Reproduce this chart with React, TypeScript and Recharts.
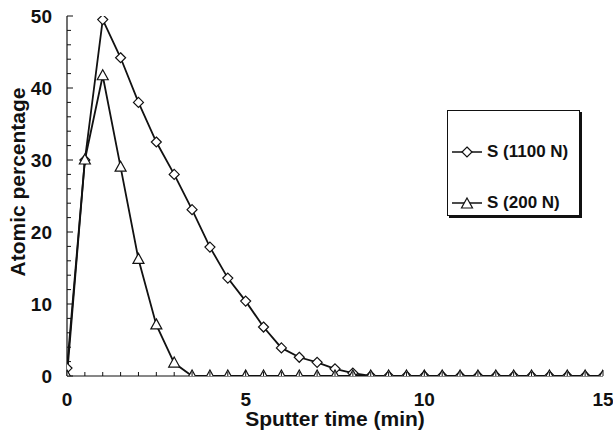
import React from 'react';
import { LineChart, Line, XAxis, YAxis, Legend } from 'recharts';

const times = [0, 0.5, 1, 1.5, 2, 2.5, 3, 3.5, 4, 4.5, 5, 5.5, 6, 6.5, 7, 7.5, 8, 8.5, 9, 9.5, 10, 10.5, 11, 11.5, 12, 12.5, 13, 13.5, 14, 14.5, 15];
const s1100 = [1.1, 30, 49.5, 44.2, 38, 32.5, 28, 23.1, 17.9, 13.6, 10.4, 6.8, 3.9, 2.6, 1.9, 1.0, 0.4, 0, 0, 0, 0, 0, 0, 0, 0, 0, 0, 0, 0, 0, 0];
const s200 = [0, 30, 41.7, 29, 16.2, 7.1, 1.8, 0, 0, 0, 0, 0, 0, 0, 0, 0, 0, 0, 0, 0, 0, 0, 0, 0, 0, 0, 0, 0, 0, 0, 0];
const xTicks = [0, 0.5, 1, 1.5, 2, 2.5, 3, 3.5, 4, 4.5, 5, 5.5, 6, 6.5, 7, 7.5, 8, 8.5, 9, 9.5, 10, 10.5, 11, 11.5, 12, 12.5, 13, 13.5, 14, 14.5, 15];
const xLabels = [0, 5, 10, 15];
const yTicks = [0, 2, 4, 6, 8, 10, 12, 14, 16, 18, 20, 22, 24, 26, 28, 30, 32, 34, 36, 38, 40, 42, 44, 46, 48, 50];
const yLabels = [0, 10, 20, 30, 40, 50];
const seriesNames = ['S (1100 N)', 'S (200 N)'];

const data = times.map((t, i) => ({ t, a: s1100[i], b: s200[i] }));

const FONT = '"Liberation Sans", Arial, sans-serif';
const INK = '#111';

const Diamond = (props: any) => {
  const { cx, cy } = props;
  if (cx == null || cy == null) return null;
  const r = 5;
  return <polygon points={`${cx},${cy - r} ${cx + r},${cy} ${cx},${cy + r} ${cx - r},${cy}`} fill="#fff" stroke={INK} strokeWidth={1.2} />;
};
const Triangle = (props: any) => {
  const { cx, cy } = props;
  if (cx == null || cy == null) return null;
  return <polygon points={`${cx},${cy - 6} ${cx + 5.5},${cy + 4} ${cx - 5.5},${cy + 4}`} fill="#fff" stroke={INK} strokeWidth={1.2} />;
};

const majorX = (v: number) => xLabels.indexOf(v) >= 0;
const majorY = (v: number) => yLabels.indexOf(v) >= 0;

const BottomTick = (p: any) => {
  const { x, y, payload } = p;
  const v = payload.value;
  const len = majorX(v) ? 6 : 4;
  return (
    <g>
      <line x1={x} x2={x} y1={y} y2={y - len} stroke={INK} strokeWidth={1} />
      {majorX(v) && (
        <text x={x} y={y + 30} textAnchor="middle" fontFamily={FONT} fontWeight="bold" fontSize={19} fill={INK}>{v}</text>
      )}
    </g>
  );
};
const TopTick = (p: any) => {
  const { x, y, payload } = p;
  const len = majorX(payload.value) ? 6 : 4;
  return <line x1={x} x2={x} y1={y} y2={y + len} stroke={INK} strokeWidth={1} />;
};
const LeftTick = (p: any) => {
  const { x, y, payload } = p;
  const v = payload.value;
  const len = majorY(v) ? 6 : 4;
  return (
    <g>
      <line x1={x} x2={x + len} y1={y} y2={y} stroke={INK} strokeWidth={1} />
      {majorY(v) && (
        <text x={x - 15} y={y + 7} textAnchor="end" fontFamily={FONT} fontWeight="bold" fontSize={19} fill={INK}>{v}</text>
      )}
    </g>
  );
};
const RightTick = (p: any) => {
  const { x, y, payload } = p;
  const len = majorY(payload.value) ? 6 : 4;
  return <line x1={x} x2={x - len} y1={y} y2={y} stroke={INK} strokeWidth={1} />;
};

const LegendBox = (props: any) => {
  const items = props.payload || [];
  return (
    <div style={{ width: 133, height: 106, border: `1px solid ${INK}`, boxShadow: `2px 2px 0 ${INK}`, background: '#fff', boxSizing: 'border-box', position: 'relative' }}>
      {items.map((it: any, i: number) => (
        <div key={i} style={{ position: 'absolute', left: 4, top: i === 0 ? 31 : 82, display: 'flex', alignItems: 'center', height: 20 }}>
          <svg width={30} height={14} style={{ display: 'block' }}>
            <line x1={0} x2={30} y1={7} y2={7} stroke={INK} strokeWidth={1.5} />
            {i === 0 ? <Diamond cx={15} cy={7} /> : <Triangle cx={15} cy={8} />}
          </svg>
          <span style={{ marginLeft: 5, fontFamily: FONT, fontWeight: 'bold', fontSize: 17, color: INK, whiteSpace: 'nowrap' }}>{it.value}</span>
        </div>
      ))}
    </div>
  );
};

export default function App() {
  return (
    <div style={{ position: 'absolute', left: 0, top: 0, width: 613, height: 434, background: '#fff' }}>
      <LineChart width={613} height={434} data={data} margin={{ top: 16, right: 10, left: 0, bottom: 0 }}>
        <XAxis
          dataKey="t"
          type="number"
          domain={[0, 15]}
          ticks={xTicks}
          interval={0}
          allowDataOverflow
          height={58}
          tickSize={0}
          tickMargin={0}
          tickLine={false}
          tick={<BottomTick />}
          axisLine={{ stroke: INK, strokeWidth: 1.2 }}
          label={(lp: any) => {
            const vb = lp.viewBox || {};
            return (
              <text x={vb.x + vb.width / 2} y={vb.y + 50} textAnchor="middle" fontFamily={FONT} fontWeight="bold" fontSize={21} fill={INK}>Sputter time (min)</text>
            );
          }}
        />
        <XAxis
          xAxisId="top"
          orientation="top"
          dataKey="t"
          type="number"
          domain={[0, 15]}
          ticks={xTicks}
          interval={0}
          allowDataOverflow
          height={0}
          tickSize={0}
          tickMargin={0}
          tickLine={false}
          tick={<TopTick />}
          axisLine={{ stroke: INK, strokeWidth: 1.2 }}
        />
        <YAxis
          type="number"
          domain={[0, 50]}
          ticks={yTicks}
          interval={0}
          allowDataOverflow
          width={67}
          tickSize={0}
          tickMargin={0}
          tickLine={false}
          tick={<LeftTick />}
          axisLine={{ stroke: INK, strokeWidth: 1.2 }}
          label={(lp: any) => {
            const vb = lp.viewBox || {};
            const cx = vb.x + 17;
            const cy = vb.y + vb.height / 2 - 14;
            return (
              <text x={cx} y={cy} transform={`rotate(-90, ${cx}, ${cy})`} textAnchor="middle" dominantBaseline="central" fontFamily={FONT} fontWeight="bold" fontSize={21} fill={INK}>Atomic percentage</text>
            );
          }}
        />
        <YAxis
          yAxisId="right"
          orientation="right"
          type="number"
          domain={[0, 50]}
          ticks={yTicks}
          interval={0}
          allowDataOverflow
          width={0}
          tickSize={0}
          tickMargin={0}
          tickLine={false}
          tick={<RightTick />}
          axisLine={{ stroke: INK, strokeWidth: 1.2 }}
        />
        <Legend
          layout="vertical"
          align="center"
          verticalAlign="middle"
          content={<LegendBox />}
          wrapperStyle={{ position: 'absolute', left: 447, top: 110, width: 'auto', height: 'auto' }}
        />
        <Line name={seriesNames[0]} dataKey="a" stroke={INK} strokeWidth={1.8} dot={<Diamond />} isAnimationActive={false} />
        <Line name={seriesNames[1]} dataKey="b" stroke={INK} strokeWidth={1.8} dot={<Triangle />} isAnimationActive={false} />
      </LineChart>
    </div>
  );
}
